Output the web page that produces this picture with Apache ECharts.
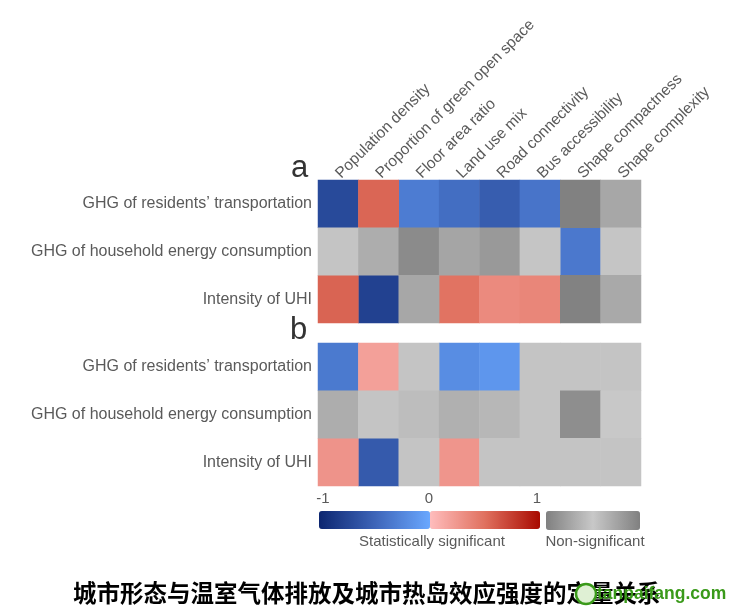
<!DOCTYPE html>
<html><head><meta charset="utf-8">
<script src="https://cdn.jsdelivr.net/npm/echarts@6/dist/echarts.min.js"></script>
<style>html,body{margin:0;padding:0;background:#fff}#c{width:732px;height:615px}</style>
</head><body><div id="c"></div>
<script>
// ---- data ----
const columns = ['Population density','Proportion of green open space','Floor area ratio','Land use mix','Road connectivity','Bus accessibility','Shape compactness','Shape complexity'];
const rows = ['GHG of residents\u2019 transportation','GHG of household energy consumption','Intensity of UHI'];
// coefficient values (panel a / panel b), one array per row
const aTransport = [-0.71, 0.55, -0.32, -0.43, -0.56, -0.38, 0.98, 0.46];
const aHousehold = [0.05, 0.38, 0.85, 0.48, 0.65, 0.04, -0.35, 0.04];
const aUHI       = [0.56, -0.78, 0.46, 0.48, 0.33, 0.36, 0.97, 0.43];
const bTransport = [-0.34, 0.19, 0.06, -0.2, -0.13, 0.06, 0.06, 0.06];
const bHousehold = [0.38, 0.06, 0.15, 0.34, 0.23, 0.05, 0.8, 0.0];
const bUHI       = [0.27, -0.58, 0.06, 0.26, 0.06, 0.06, 0.06, 0.06];
// significance flags (1 = statistically significant)
const aTransportSig = [1,1,1,1,1,1,0,0];
const aHouseholdSig = [0,0,0,0,0,0,1,0];
const aUHISig       = [1,1,0,1,1,1,0,0];
const bTransportSig = [1,1,0,1,1,0,0,0];
const bHouseholdSig = [0,0,0,0,0,0,0,0];
const bUHISig       = [1,1,0,1,0,0,0,0];
const scaleTicks = ['-1','0','1'];

function split(valRows, sigRows){
  const neg=[],pos=[],ns=[];
  valRows.forEach((vals,r)=>vals.forEach((v,c)=>{
    const d=[c,r,v];
    if(sigRows[r][c]){ (v<0?neg:pos).push(d); } else ns.push(d);
  }));
  return {neg,pos,ns};
}
const A = split([aTransport,aHousehold,aUHI],[aTransportSig,aHouseholdSig,aUHISig]);
const B = split([bTransport,bHousehold,bUHI],[bTransportSig,bHouseholdSig,bUHISig]);

const lab = {color:'#5a5a5a', fontSize:16, fontFamily:'Liberation Sans'};
const chart = echarts.init(document.getElementById('c'));
function hm(g,data){return {type:'heatmap',xAxisIndex:g,yAxisIndex:g,data:data,itemStyle:{borderWidth:0},emphasis:{disabled:true}};}
chart.setOption({
  animation:false,
  grid:[{left:318,top:180,width:323,height:143},{left:318,top:343,width:323,height:143}],
  xAxis:[
    {type:'category',gridIndex:0,data:columns,position:'top',axisLine:{show:false},axisTick:{show:false},
     axisLabel:{rotate:-45,interval:0,margin:4,color:'#5a5a5a',fontSize:15.5,fontFamily:'Liberation Sans'}},
    {type:'category',gridIndex:1,data:columns,show:false}
  ],
  yAxis:[
    {type:'category',gridIndex:0,data:rows,inverse:true,axisLine:{show:false},axisTick:{show:false},axisLabel:Object.assign({margin:6},lab)},
    {type:'category',gridIndex:1,data:rows,inverse:true,axisLine:{show:false},axisTick:{show:false},axisLabel:Object.assign({margin:6},lab)}
  ],
  visualMap:[
    {type:'continuous',min:-1,max:0,seriesIndex:[0,3],orient:'horizontal',left:319,top:511,itemWidth:18,itemHeight:111,padding:0,calculable:false,
     inRange:{color:['#0c2670','#3d64b8','#6aa8ff']}},
    {type:'continuous',min:0,max:1,seriesIndex:[1,4],orient:'horizontal',left:430,top:511,itemWidth:18,itemHeight:110,padding:0,calculable:false,
     inRange:{color:['#ffbdbd','#e0705e','#a80a00']}},
    {type:'continuous',min:-1,max:1,seriesIndex:[2,5],orient:'horizontal',left:546,top:511,itemWidth:19,itemHeight:94,padding:0,calculable:false,
     inRange:{color:['#808080','#c8c8c8','#808080']}}
  ],
  series:[hm(0,A.neg),hm(0,A.pos),hm(0,A.ns),hm(1,B.neg),hm(1,B.pos),hm(1,B.ns)],
  graphic:[
    {type:'text',left:291,top:153,style:{text:'a',font:'31px "Liberation Sans"',fill:'#333'}},
    {type:'text',left:290,top:315,style:{text:'b',font:'31px "Liberation Sans"',fill:'#333'}},
    {type:'text',x:323,y:499,style:{text:scaleTicks[0],font:'15px "Liberation Sans"',fill:'#5a5a5a',textAlign:'center',textVerticalAlign:'middle'}},
    {type:'text',x:429,y:499,style:{text:scaleTicks[1],font:'15px "Liberation Sans"',fill:'#5a5a5a',textAlign:'center',textVerticalAlign:'middle'}},
    {type:'text',x:537,y:499,style:{text:scaleTicks[2],font:'15px "Liberation Sans"',fill:'#5a5a5a',textAlign:'center',textVerticalAlign:'middle'}},
    {type:'text',x:432,y:542,style:{text:'Statistically significant',font:'15px "Liberation Sans"',fill:'#5a5a5a',textAlign:'center',textVerticalAlign:'middle'}},
    {type:'text',x:595,y:542,style:{text:'Non-significant',font:'15px "Liberation Sans"',fill:'#5a5a5a',textAlign:'center',textVerticalAlign:'middle'}},
    {type:'text',x:73,y:593,style:{text:'城市形态与温室气体排放及城市热岛效应强度的定量关系',font:'bold 23.5px "Noto Sans CJK SC"',fill:'#000',textAlign:'left',textVerticalAlign:'middle'}},
    {type:'circle',shape:{cx:586,cy:594,r:10},style:{fill:'#dff0d4',stroke:'#3a9a1a',lineWidth:2.5}},
    {type:'text',x:597,y:594,style:{text:'tanpaifang.com',font:'bold 17.5px "Liberation Sans"',fill:'#3a9a1a',textVerticalAlign:'middle'}}
  ]
});
</script></body></html>
